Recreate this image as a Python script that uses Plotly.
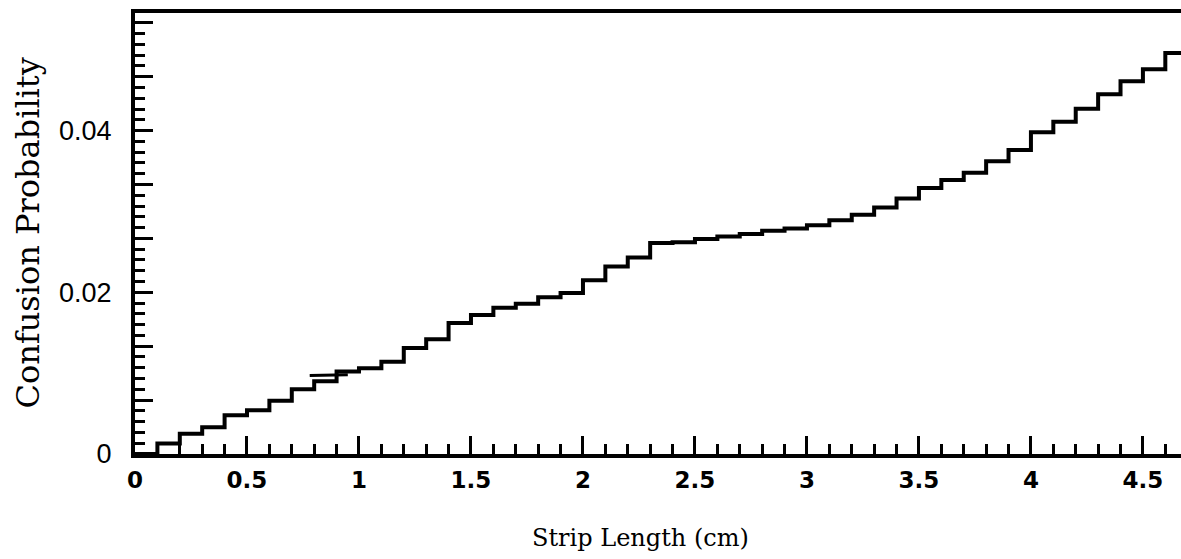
import plotly.graph_objects as go

# ---- data ----
bin_width = 0.1
bin_left_edges = [round(i * bin_width, 1) for i in range(47)]  # 0.0 ... 4.6
confusion_prob = [
    0.0000, 0.0013, 0.0025, 0.0033, 0.0048, 0.0054, 0.0066, 0.0080, 0.0090, 0.0102,
    0.0106, 0.0114, 0.0131, 0.0142, 0.0162, 0.0172, 0.0181, 0.0186, 0.0194, 0.0199,
    0.0215, 0.0232, 0.0243, 0.0261, 0.0262, 0.0266, 0.0269, 0.0272, 0.0276, 0.0279,
    0.0283, 0.0289, 0.0296, 0.0305, 0.0316, 0.0329, 0.0339, 0.0348, 0.0362, 0.0376,
    0.0398, 0.0411, 0.0427, 0.0445, 0.0461, 0.0476, 0.0496,
]
# short overlapping segment visible near 0.8-0.95 cm
overlap_x = [0.78, 0.95]
overlap_y = [0.0097, 0.0098]

x_tick_vals = [0, 0.5, 1, 1.5, 2, 2.5, 3, 3.5, 4, 4.5]
x_tick_text = ["0", "0.5", "1", "1.5", "2", "2.5", "3", "3.5", "4", "4.5"]
y_major_step = 0.02 / 3
y_tick_vals = [i * y_major_step for i in range(9)]
y_tick_text = ["0", "", "", "0.02", "", "", "0.04", "", ""]

x_title = "Strip Length (cm)"
y_title = "Confusion Probability"

# ---- figure ----
W, H = 1181, 559
L, T, B = 135, 13, 105
plot_w = W - L
plot_h = H - T - B
x_max = 4.67
y_max = 0.05455

step_x = bin_left_edges + [bin_left_edges[-1] + bin_width]
step_y = confusion_prob + [confusion_prob[-1]]

fig = go.Figure()
fig.add_trace(go.Scatter(
    x=step_x, y=step_y, mode="lines", line=dict(shape="hv", color="black", width=4),
    showlegend=False, hoverinfo="skip"))
fig.add_trace(go.Scatter(
    x=overlap_x, y=overlap_y, mode="lines", line=dict(color="black", width=3),
    showlegend=False, hoverinfo="skip"))

fig.update_layout(
    width=W, height=H,
    margin=dict(l=L, r=0, t=T, b=B, pad=0),
    paper_bgcolor="white", plot_bgcolor="white",
    xaxis=dict(
        range=[0, x_max], showgrid=False, zeroline=False,
        showline=True, linecolor="black", linewidth=4, mirror=True,
        tickmode="array", tickvals=x_tick_vals, ticktext=x_tick_text,
        ticks="inside", ticklen=18, tickwidth=3, tickcolor="black",
        tickfont=dict(family="DejaVu Sans", size=23, color="black", weight="bold"),
        ticklabelstandoff=2,
        minor=dict(tickmode="linear", tick0=0, dtick=0.1, ticks="inside",
                   ticklen=10, tickwidth=3, tickcolor="black"),
    ),
    yaxis=dict(
        range=[0, y_max], showgrid=False, zeroline=False,
        showline=True, linecolor="black", linewidth=4,
        tickmode="array", tickvals=y_tick_vals, ticktext=y_tick_text,
        ticks="inside", ticklen=18, tickwidth=3, tickcolor="black",
        tickfont=dict(family="Liberation Sans", size=27, color="black"),
        ticklabelstandoff=14,
        minor=dict(tickmode="linear", tick0=0, dtick=0.02 / 15, ticks="inside",
                   ticklen=10, tickwidth=3, tickcolor="black"),
    ),
    annotations=[
        dict(text=x_title, xref="paper", yref="paper",
             x=(640 - L) / plot_w, y=-(538 - (T + plot_h)) / plot_h,
             xanchor="center", yanchor="middle", showarrow=False,
             font=dict(family="DejaVu Serif", size=24, color="black")),
        dict(text=y_title, xref="paper", yref="paper",
             x=-(L - 27) / plot_w, y=0.5, textangle=-90,
             xanchor="center", yanchor="middle", showarrow=False,
             font=dict(family="DejaVu Serif", size=32, color="black")),
    ],
)

fig.write_html("out.html")
